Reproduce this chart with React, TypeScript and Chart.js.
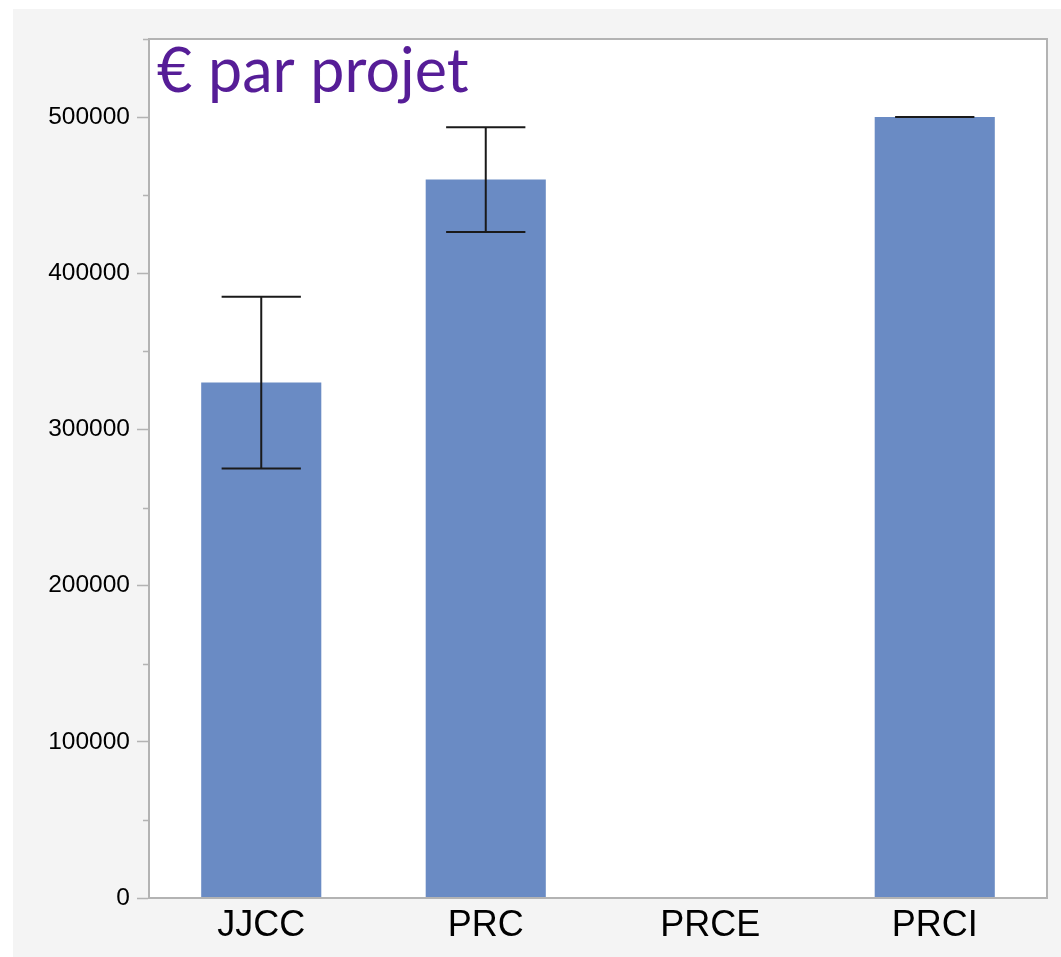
import React, { useEffect, useRef } from "react";
import { Chart, registerables } from "chart.js";

Chart.register(...registerables);

const categories = ["JJCC", "PRC", "PRCE", "PRCI"];
const means: (number | null)[] = [330000, 460000, null, 500000];
const errLow: (number | null)[] = [275000, 426500, null, 500000];
const errHigh: (number | null)[] = [385000, 493500, null, 500000];
const yMax = 550000;
const yTickStep = 50000;
const yLabelStep = 100000;
const titleText = "€ par projet";

const BAR_COLOR = "#6a8bc4";
const AXIS_COLOR = "#b3b3b3";
const TITLE_COLOR = "#561d97";

const chartPlugin = {
  id: "customDecor",
  beforeDraw(chart: any) {
    const { ctx, chartArea } = chart;
    ctx.save();
    ctx.fillStyle = "#ffffff";
    ctx.fillRect(chartArea.left, chartArea.top, chartArea.right - chartArea.left, chartArea.bottom - chartArea.top);
    ctx.restore();
  },
  afterDatasetsDraw(chart: any) {
    const { ctx } = chart;
    const xs = chart.scales.x;
    const ys = chart.scales.y;
    const meta = chart.getDatasetMeta(0);
    ctx.save();
    ctx.strokeStyle = "#1a1a1a";
    ctx.lineWidth = 2;
    categories.forEach((_, i) => {
      const lo = errLow[i];
      const hi = errHigh[i];
      if (lo == null || hi == null) return;
      const x = xs.getPixelForValue(i);
      const bar = meta.data[i];
      const bw = bar ? bar.width : 120;
      const capHalf = bw * 0.33;
      const yLo = ys.getPixelForValue(lo);
      const yHi = ys.getPixelForValue(hi);
      ctx.beginPath();
      ctx.moveTo(x, yLo);
      ctx.lineTo(x, yHi);
      ctx.moveTo(x - capHalf, yLo);
      ctx.lineTo(x + capHalf, yLo);
      ctx.moveTo(x - capHalf, yHi);
      ctx.lineTo(x + capHalf, yHi);
      ctx.stroke();
    });
    ctx.restore();
  },
  afterDraw(chart: any) {
    const { ctx, chartArea } = chart;
    const ys = chart.scales.y;
    ctx.save();
    // plot frame
    ctx.strokeStyle = AXIS_COLOR;
    ctx.lineWidth = 2;
    ctx.strokeRect(chartArea.left, chartArea.top, chartArea.right - chartArea.left, chartArea.bottom - chartArea.top);
    // minor ticks
    ctx.lineWidth = 1.5;
    for (let v = yTickStep; v <= yMax; v += yLabelStep) {
      const y = Math.round(ys.getPixelForValue(v)) + 0.5;
      ctx.beginPath();
      ctx.moveTo(chartArea.left - 6, y);
      ctx.lineTo(chartArea.left, y);
      ctx.stroke();
    }
    // title inside plot
    ctx.fillStyle = TITLE_COLOR;
    ctx.font = '61px Lato, "Open Sans", sans-serif';
    ctx.textBaseline = "alphabetic";
    ctx.textAlign = "left";
    ctx.fillText(titleText, chartArea.left + 8, chartArea.top + 53);
    ctx.restore();
  },
};

export default function App() {
  const canvasRef = useRef<HTMLCanvasElement | null>(null);

  useEffect(() => {
    if (!canvasRef.current) return;
    const chart = new Chart(canvasRef.current, {
      type: "bar",
      data: {
        labels: categories,
        datasets: [
          {
            data: means as any,
            backgroundColor: BAR_COLOR,
            borderWidth: 0,
            categoryPercentage: 1,
            barPercentage: 0.535,
          },
        ],
      },
      options: {
        animation: false,
        responsive: true,
        maintainAspectRatio: false,
        layout: { padding: { top: 30, right: 14, left: 0, bottom: 0 } },
        plugins: {
          legend: { display: false },
          tooltip: { enabled: false },
          title: { display: false },
        },
        scales: {
          x: {
            grid: { display: false },
            border: { display: true, color: AXIS_COLOR, width: 2 },
            ticks: {
              color: "#000000",
              font: { family: '"Liberation Sans", Arial, sans-serif', size: 36, lineHeight: 1 },
              padding: 2,
            },
            afterFit(scale: any) {
              scale.height = 59;
            },
          },
          y: {
            min: 0,
            max: yMax,
            grid: {
              drawOnChartArea: false,
              drawTicks: true,
              tickLength: 12,
              tickWidth: 1.5,
              tickColor: (ctx: any) =>
                ctx.tick && ctx.tick.value % yLabelStep === 0 ? AXIS_COLOR : "rgba(0,0,0,0)",
            },
            border: { display: true, color: AXIS_COLOR, width: 2 },
            ticks: {
              stepSize: yTickStep,
              autoSkip: false,
              color: "#000000",
              font: { family: '"Liberation Sans", Arial, sans-serif', size: 24.5 },
              padding: 7,
              callback: (v: any) => (Number(v) % yLabelStep === 0 ? String(v) : ""),
            },
            afterFit(scale: any) {
              scale.width = 136;
            },
          },
        },
      },
      plugins: [chartPlugin],
    });
    return () => chart.destroy();
  }, []);

  return (
    <div
      style={{
        position: "absolute",
        left: 13,
        top: 9,
        width: 1048,
        height: 948,
        background: "#f4f4f4",
      }}
    >
      <canvas ref={canvasRef} />
    </div>
  );
}
